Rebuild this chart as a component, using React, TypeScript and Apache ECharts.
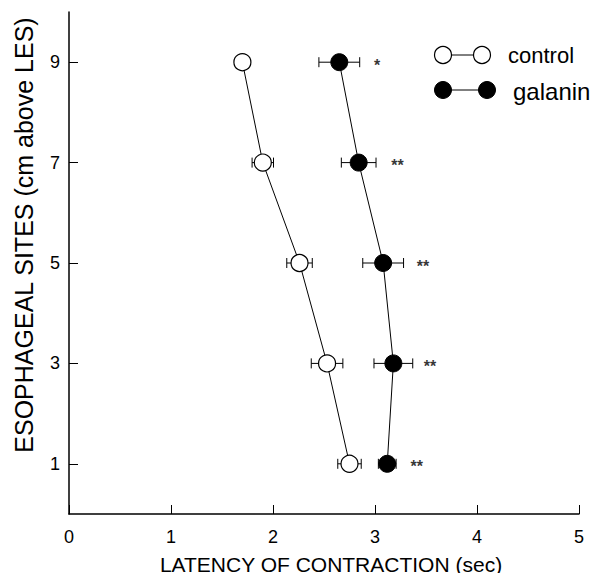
import React, { useEffect, useRef } from "react";
import * as echarts from "echarts";

const sites = [9, 7, 5, 3, 1];
const controlLatency = [1.7, 1.9, 2.26, 2.53, 2.75];
const controlErr = [0.0, 0.105, 0.125, 0.155, 0.115];
const galaninLatency = [2.65, 2.84, 3.08, 3.18, 3.12];
const galaninErr = [0.2, 0.17, 0.2, 0.19, 0.087];
const sigMarks = ["*", "**", "**", "**", "**"];
const sigX = [3.02, 3.22, 3.47, 3.54, 3.41];
const xTicks = [0, 1, 2, 3, 4, 5];
const yTicks = [1, 3, 5, 7, 9];

const FONT = "Liberation Sans, Arial, sans-serif";

export default function App() {
  const ref = useRef<HTMLDivElement>(null);
  useEffect(() => {
    if (!ref.current) return;
    const chart = echarts.init(ref.current, undefined, { renderer: "svg" });

    const errData = (xs: number[], es: number[]) =>
      sites.map((s, i) => [xs[i] - es[i], xs[i] + es[i], s]);

    const errSeries = (xs: number[], es: number[]) => ({
      type: "custom",
      z: 1,
      silent: true,
      data: errData(xs, es),
      renderItem: (_p: any, api: any) => {
        const lo = api.coord([api.value(0), api.value(2)]);
        const hi = api.coord([api.value(1), api.value(2)]);
        const h = 5;
        const st = { stroke: "#000", lineWidth: 1 };
        return {
          type: "group",
          children: [
            { type: "line", shape: { x1: lo[0], y1: lo[1], x2: hi[0], y2: hi[1] }, style: st },
            { type: "line", shape: { x1: lo[0], y1: lo[1] - h, x2: lo[0], y2: lo[1] + h }, style: st },
            { type: "line", shape: { x1: hi[0], y1: hi[1] - h, x2: hi[0], y2: hi[1] + h }, style: st },
          ],
        };
      },
    });

    const legendY1 = 55;
    const legendY2 = 90;

    chart.setOption({
      animation: false,
      backgroundColor: "#fff",
      grid: { left: 69, right: 19, top: 12, bottom: 67, containLabel: false, outerBoundsMode: "none" },
      xAxis: {
        type: "value",
        min: 0,
        max: 5,
        interval: 1,
        axisLine: { show: true, onZero: false, lineStyle: { color: "#000", width: 1.5 } },
        axisTick: { show: true, inside: true, length: 9, lineStyle: { color: "#000", width: 1 } },
        axisLabel: {
          fontFamily: FONT,
          fontSize: 18,
          color: "#000",
          margin: 14,
          formatter: (v: number) => (xTicks.includes(v) ? String(v) : ""),
        },
        splitLine: { show: false },
      },
      yAxis: {
        type: "value",
        min: 0,
        max: 10,
        axisLine: { show: true, onZero: false, lineStyle: { color: "#000", width: 1.5 } },
        axisTick: {
          show: true,
          inside: true,
          length: 9,
          customValues: yTicks,
          lineStyle: { color: "#000", width: 1 },
        },
        axisLabel: {
          fontFamily: FONT,
          fontSize: 18,
          color: "#000",
          margin: 9,
          customValues: yTicks,
        },
        splitLine: { show: false },
      },
      series: [
        errSeries(controlLatency, controlErr),
        errSeries(galaninLatency, galaninErr),
        {
          type: "line",
          name: "control",
          z: 3,
          data: sites.map((s, i) => [controlLatency[i], s]),
          symbol: "circle",
          symbolSize: 17,
          lineStyle: { color: "#000", width: 1 },
          itemStyle: { color: "#fff", borderColor: "#000", borderWidth: 1.2 },
        },
        {
          type: "line",
          name: "galanin",
          z: 3,
          data: sites.map((s, i) => [galaninLatency[i], s]),
          symbol: "circle",
          symbolSize: 17,
          lineStyle: { color: "#000", width: 1 },
          itemStyle: { color: "#000", borderColor: "#000", borderWidth: 1 },
        },
        {
          type: "scatter",
          name: "sig",
          z: 4,
          symbolSize: 0,
          data: sites.map((s, i) => ({
            value: [sigX[i], s],
            label: {
              show: true,
              formatter: sigMarks[i],
              position: "inside",
              fontFamily: FONT,
              fontWeight: "bold",
              fontSize: 16,
              color: "#000",
              offset: [0, 3],
            },
          })),
        },
      ],
      graphic: [
        {
          type: "text",
          x: 24,
          y: 235,
          rotation: Math.PI / 2,
          style: {
            text: "ESOPHAGEAL SITES (cm above LES)",
            fontFamily: FONT,
            fontSize: 25,
            fill: "#000",
            align: "center",
            verticalAlign: "middle",
          },
        },
        {
          type: "text",
          x: 331,
          y: 564,
          style: {
            text: "LATENCY OF CONTRACTION (sec)",
            fontFamily: FONT,
            fontSize: 21,
            fill: "#000",
            align: "center",
            verticalAlign: "middle",
          },
        },
        { type: "line", shape: { x1: 443, y1: legendY1, x2: 482, y2: legendY1 }, style: { stroke: "#000", lineWidth: 1 } },
        { type: "circle", shape: { cx: 443, cy: legendY1, r: 8.5 }, style: { fill: "#fff", stroke: "#000", lineWidth: 1.2 } },
        { type: "circle", shape: { cx: 482, cy: legendY1, r: 8.5 }, style: { fill: "#fff", stroke: "#000", lineWidth: 1.2 } },
        {
          type: "text",
          x: 508,
          y: legendY1,
          style: { text: "control", fontFamily: FONT, fontSize: 22, fill: "#000", verticalAlign: "middle" },
        },
        { type: "line", shape: { x1: 443, y1: legendY2, x2: 487, y2: legendY2 }, style: { stroke: "#000", lineWidth: 1 } },
        { type: "circle", shape: { cx: 443, cy: legendY2, r: 8.5 }, style: { fill: "#000", stroke: "#000", lineWidth: 1 } },
        { type: "circle", shape: { cx: 487, cy: legendY2, r: 8.5 }, style: { fill: "#000", stroke: "#000", lineWidth: 1 } },
        {
          type: "text",
          x: 513,
          y: legendY2 + 1,
          style: { text: "galanin", fontFamily: FONT, fontSize: 24, fill: "#000", verticalAlign: "middle" },
        },
      ],
    });
    return () => chart.dispose();
  }, []);
  return <div ref={ref} style={{ width: 598, height: 581, margin: -8 }} />;
}
